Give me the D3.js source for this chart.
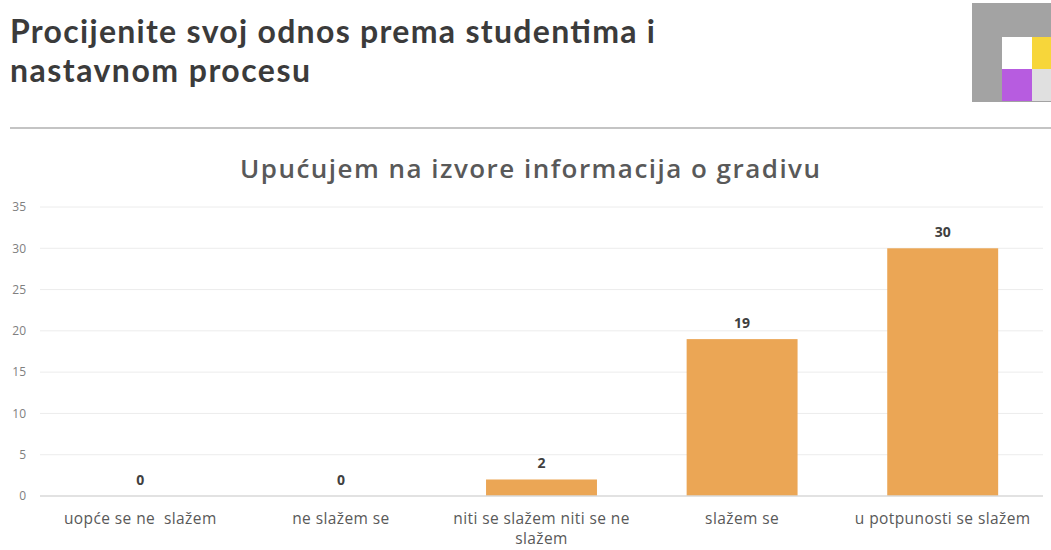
<!DOCTYPE html>
<html>
<head>
<meta charset="utf-8">
<script src="https://cdn.jsdelivr.net/npm/d3@7"></script>
<style>
  body { margin: 0; background: #fff; }
  svg { display: block; font-family: "Open Sans", sans-serif; }
</style>
</head>
<body>
<svg id="chart" width="1051" height="550"></svg>
<script>
const categories = ["uopće se ne  slažem", "ne slažem se", "niti se slažem niti se ne slažem", "slažem se", "u potpunosti se slažem"];
const values = [0, 0, 2, 19, 30];
const yTicks = [0, 5, 10, 15, 20, 25, 30, 35];

const svg = d3.select("#chart");
const plotLeft = 40, plotRight = 1043, plotTop = 207, plotBottom = 496;

// slide header
const header = svg.append("g").attr("font-family", "Lato, sans-serif")
  .attr("font-size", 32).attr("font-weight", "bold").attr("fill", "#3b3b3b");
header.append("text").attr("x", 10).attr("y", 43)
  .attr("textLength", 645).attr("lengthAdjust", "spacing")
  .text("Procijenite svoj odnos prema studentima i");
header.append("text").attr("x", 10).attr("y", 82)
  .attr("textLength", 300).attr("lengthAdjust", "spacing")
  .text("nastavnom procesu");
svg.append("line").attr("x1", 10).attr("x2", 1051).attr("y1", 128).attr("y2", 128)
  .attr("stroke", "#b0b0b0").attr("stroke-width", 1.5);

// logo
const logo = svg.append("g");
logo.append("rect").attr("x", 972).attr("y", 3).attr("width", 79).attr("height", 99).attr("fill", "#a3a3a3");
logo.append("rect").attr("x", 1002).attr("y", 37).attr("width", 30).attr("height", 32).attr("fill", "#ffffff");
logo.append("rect").attr("x", 1032).attr("y", 37).attr("width", 19).attr("height", 32).attr("fill", "#f7d63a");
logo.append("rect").attr("x", 1002).attr("y", 69).attr("width", 30).attr("height", 32).attr("fill", "#b75ce0");
logo.append("rect").attr("x", 1032).attr("y", 69).attr("width", 19).attr("height", 32).attr("fill", "#e0e0e0");

// chart title
svg.append("text").attr("x", 240).attr("y", 178)
  .attr("font-size", 26).attr("font-weight", 600).attr("fill", "#595959")
  .attr("textLength", 580).attr("lengthAdjust", "spacing")
  .text("Upućujem na izvore informacija o gradivu");

const x = d3.scaleBand().domain(categories).range([plotLeft, plotRight])
  .paddingInner(0.447).paddingOuter(0.2235);
const y = d3.scaleLinear().domain([0, 35]).range([plotBottom, plotTop]);

// grid
svg.append("g").selectAll("line").data(yTicks.slice(1)).join("line")
  .attr("x1", plotLeft).attr("x2", plotRight)
  .attr("y1", d => y(d)).attr("y2", d => y(d))
  .attr("stroke", "#ececec");

// y axis
const yAxis = svg.append("g").attr("transform", `translate(${plotLeft - 14},0)`)
  .call(d3.axisLeft(y).tickValues(yTicks).tickSize(0).tickPadding(0));
yAxis.select(".domain").remove();
yAxis.selectAll("text").attr("font-size", 12).attr("fill", "#808080").attr("font-family", "Open Sans, sans-serif");

// bars
svg.append("g").selectAll("rect").data(values).join("rect")
  .attr("x", (d, i) => x(categories[i]))
  .attr("y", d => y(d))
  .attr("width", x.bandwidth())
  .attr("height", d => plotBottom - y(d))
  .attr("fill", "#eba655");

// baseline
svg.append("line").attr("x1", plotLeft).attr("x2", plotRight).attr("y1", plotBottom).attr("y2", plotBottom)
  .attr("stroke", "#d9d9d9").attr("stroke-width", 1.5);

// value labels
svg.append("g").selectAll("text").data(values).join("text")
  .attr("x", (d, i) => x(categories[i]) + x.bandwidth() / 2)
  .attr("y", d => y(d) - 11)
  .attr("text-anchor", "middle")
  .attr("font-size", 14).attr("font-weight", "bold").attr("fill", "#404040")
  .text(d => d);

// x axis labels
const xl = svg.append("g");
categories.forEach((c, i) => {
  const cx = x(c) + x.bandwidth() / 2;
  const lines = c.length > 25 ? ["niti se slažem niti se ne", "slažem"] : [c];
  lines.forEach((ln, j) => {
    xl.append("text").attr("x", cx).attr("y", 524 + j * 20)
      .attr("text-anchor", "middle").attr("font-size", 15.5).attr("fill", "#595959")
      .attr("letter-spacing", 0.4)
      .style("white-space", "pre")
      .text(ln);
  });
});
</script>
</body>
</html>
